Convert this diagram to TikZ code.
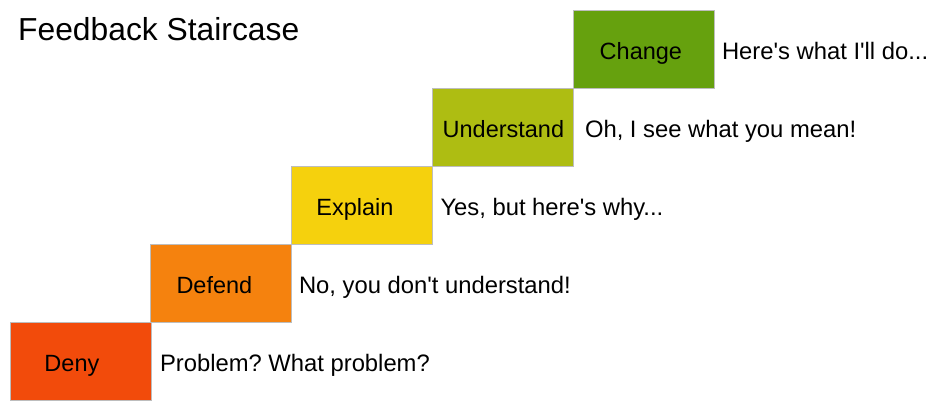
\documentclass[tikz,border=0pt]{standalone}
\usepackage{fontspec}
\setmainfont{Liberation Sans}
\definecolor{cdeny}{HTML}{F24B0B}
\definecolor{cdefend}{HTML}{F5820E}
\definecolor{cexplain}{HTML}{F5D10D}
\definecolor{cunder}{HTML}{AEBD12}
\definecolor{cchange}{HTML}{66A10E}
\definecolor{boxline}{HTML}{BDBDBD}
\frenchspacing
\begin{document}
\begin{tikzpicture}[x=1pt,y=-1pt,
  stepbox/.style={draw=boxline, line width=0.8pt, minimum width=141pt, minimum height=78pt, inner sep=0pt, anchor=north west},
  lbl/.style={font=\fontsize{23.5}{28}\selectfont, inner sep=0pt, anchor=base},
  say/.style={font=\fontsize{23.8}{28}\selectfont, inner sep=0pt, anchor=base west}]
\useasboundingbox (0,0) rectangle (943,412);
\fill[white] (0,0) rectangle (943,412);
\node[anchor=base west, font=\fontsize{31.8}{36}\selectfont, inner sep=0pt] (title) at (18,40.5) {Feedback Staircase};
\node[stepbox, fill=cdeny] (deny) at (10,322) {};
\node[stepbox, fill=cdefend] (defend) at (150,244) {};
\node[stepbox, fill=cexplain] (explain) at (291,166) {};
\node[stepbox, fill=cunder] (under) at (432,88) {};
\node[stepbox, fill=cchange] (change) at (573,10) {};
\node[lbl] (denyl) at ([xshift=-9pt,yshift=-10pt]deny.center) {Deny};
\node[lbl] (defendl) at ([xshift=-6.5pt,yshift=-10pt]defend.center) {Defend};
\node[lbl] (explainl) at ([xshift=-7pt,yshift=-10pt]explain.center) {Explain};
\node[lbl] (underl) at ([xshift=0.5pt,yshift=-10pt]under.center) {Understand};
\node[lbl] (changel) at ([xshift=-3pt,yshift=-10pt]change.center) {Change};
\node[say] (denys) at ([xshift=8pt,yshift=-10pt]deny.east) {Problem? What problem?};
\node[say] (defends) at ([xshift=7pt,yshift=-10pt]defend.east) {No, you don\textquotesingle t understand!};
\node[say] (explains) at ([xshift=7.5pt,yshift=-10pt]explain.east) {Yes, but here\textquotesingle s why...};
\node[say] (unders) at ([xshift=11pt,yshift=-10pt]under.east) {Oh, I see what you mean!};
\node[say] (changes) at ([xshift=7pt,yshift=-10pt]change.east) {Here\textquotesingle s what I\textquotesingle ll do...};
\end{tikzpicture}
\end{document}
